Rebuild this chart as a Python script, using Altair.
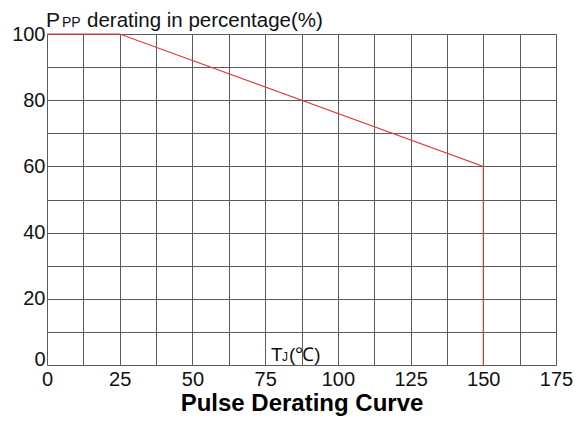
import altair as alt
import pandas as pd

temp = [0, 25, 150, 150]
pct = [100, 100, 60, 0]
order = [0, 1, 2, 3]

x_grid = [i * 12.5 for i in range(15)]
y_grid = [i * 10 for i in range(11)]

df = pd.DataFrame({"t": temp, "p": pct, "o": order})

FONT = "Liberation Sans"
GRID = "#5a5a5a"
RED = "#e03c3c"

line = alt.Chart(df).mark_line(color=RED, strokeWidth=1.1).encode(
    x=alt.X("t:Q", scale=alt.Scale(domain=[0, 175], nice=False),
            axis=alt.Axis(values=x_grid, grid=True, gridColor=GRID, gridWidth=1, gridOpacity=1,
                          ticks=False, domain=False, labelFlush=False, labelFontSize=20,
                          labelFont=FONT, labelColor="#111", labelPadding=4, format="d",
                          labelExpr="datum.value % 25 == 0 ? datum.label : ''",
                          title="Pulse Derating Curve", titleFont=FONT, titleFontSize=24,
                          titleFontWeight="bold", titleColor="#000", titlePadding=2)),
    y=alt.Y("p:Q", scale=alt.Scale(domain=[0, 100], nice=False),
            axis=alt.Axis(values=y_grid, grid=True, gridColor=GRID, gridWidth=1, gridOpacity=1,
                          ticks=False, domain=False, labelFlush=False, labelFontSize=20,
                          labelFont=FONT, labelColor="#111", labelPadding=2, format="d",
                          labelBaseline=alt.condition("datum.value == 0", alt.value("alphabetic"), alt.value("middle")),
                          labelExpr="datum.value % 20 == 0 ? datum.label : ''",
                          title=None)),
    order="o:Q",
)

def txt(s, x, y, size):
    return alt.Chart(pd.DataFrame({"s": [s]})).mark_text(
        align="left", baseline="alphabetic", font=FONT, fontSize=size, color="#111"
    ).encode(text="s:N", x=alt.value(x), y=alt.value(y))

texts = [
    txt("P", -1, -7, 21),
    txt("PP", 15, -7, 14),
    txt("derating in percentage(%)", 40, -7, 20.5),
    txt("T", 224, 327, 19),
    txt("J", 235, 327, 12),
    txt("(℃)", 242, 327, 19),
]

chart = alt.layer(line, *texts).properties(
    width=509, height=331,
    autosize=alt.AutoSizeParams(type="none"),
    padding={"left": 39, "top": 26, "right": 20, "bottom": 51},
).configure_view(stroke=GRID, strokeWidth=1).configure(background="white")

chart.save("out.html", embed_options={"renderer": "svg", "actions": False})
